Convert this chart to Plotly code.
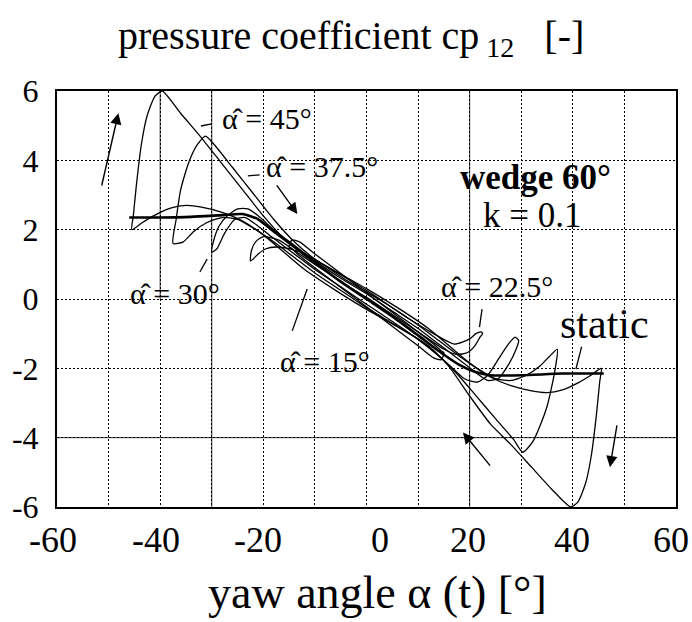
import plotly.graph_objects as go

# ---------------- data ----------------
static_alpha = [-46, -40, -34, -28, -24, -21, -18, -14, -10, -5, 0, 5, 10, 14, 18, 21, 24, 30, 38, 46]
static_cp = [2.35, 2.35, 2.37, 2.42, 2.45, 2.3, 1.95, 1.5, 1.05, 0.5, 0.0, -0.5, -1.05, -1.5, -1.9, -2.1, -2.2, -2.2, -2.15, -2.15]

a45_alpha = [-45.5, -45.2, -44.6, -43.6, -42.5, -41, -39.6, -36, -32, -28, -24, -20, -16, -12, -6, 0, 6, 12, 16, 20, 24, 28, 32, 35, 38, 41, 43.5, 45.5,
             45.2, 44.6, 43.6, 42.5, 41, 39.6, 36, 32, 28, 24, 20, 16, 12, 6, 0, -6, -12, -16, -20, -24, -28, -32, -35, -38, -41, -43.5, -45.5]
a45_cp = [2.0, 2.4, 3.3, 4.5, 5.3, 5.85, 6.0, 5.35, 4.65, 3.9, 3.15, 2.4, 1.75, 1.3, 0.8, 0.3, -0.25, -0.85, -1.35, -1.85, -2.25, -2.5, -2.65, -2.7, -2.62, -2.42, -2.2, -2.0,
          -2.4, -3.3, -4.5, -5.3, -5.85, -6.0, -5.5, -4.85, -4.2, -3.6, -2.8, -1.95, -1.35, -0.8, -0.3, 0.25, 0.85, 1.35, 1.85, 2.25, 2.5, 2.65, 2.7, 2.62, 2.42, 2.2, 2.0]

a375_alpha = [-37.5, -36.9, -36.1, -35.2, -34.2, -32.8, -31.2, -29.5, -26, -22, -18, -14, -10, -5, 0, 5, 10, 14, 18, 22, 25, 28, 31, 33.5, 35.5, 37,
              36.6, 35.8, 35, 33.8, 32.3, 30.3, 28.5, 25, 21, 17.8, 14.5, 10, 5, 0, -5, -10, -14, -18, -22, -25, -28, -31, -33.5, -35.5, -37.5]
a375_cp = [1.6, 2.3, 3.1, 3.6, 4.04, 4.45, 4.7, 4.45, 3.8, 3.05, 2.3, 1.65, 1.15, 0.7, 0.25, -0.25, -0.75, -1.2, -1.65, -2.05, -2.3, -2.35, -2.2, -1.95, -1.65, -1.45,
           -2.0, -2.6, -3.1, -3.6, -4.1, -4.42, -4.05, -3.45, -2.75, -2.2, -1.7, -1.15, -0.7, -0.25, 0.25, 0.75, 1.2, 1.65, 2.05, 2.3, 2.35, 2.2, 1.95, 1.65, 1.6]

a30_alpha = [-30, -29.6, -28.6, -27, -25, -23, -21, -18, -14, -10, -5, 0, 5, 10, 14, 18, 21, 23.5, 25.5, 27.5, 29, 29.5,
             28.8, 27.5, 25.5, 23.5, 21.5, 19, 16, 12, 8, 4, 0, -5, -10, -14, -18, -21, -23.5, -25.5, -27.5, -29, -30]
a30_cp = [1.35, 1.7, 2.1, 2.4, 2.6, 2.6, 2.4, 2.0, 1.55, 1.1, 0.6, 0.15, -0.35, -0.85, -1.3, -1.75, -2.1, -2.35, -2.3, -1.9, -1.45, -1.2,
          -1.1, -1.3, -1.75, -2.2, -2.4, -2.3, -1.9, -1.4, -0.95, -0.55, -0.15, 0.35, 0.85, 1.3, 1.75, 2.1, 2.35, 2.3, 1.9, 1.45, 1.35]

a225_alpha = [-22.5, -22.3, -21.5, -20, -17, -13, -8, -4, 0, 4, 8, 12, 15, 17.5, 19.5, 21, 22, 22.5,
              22.2, 21.2, 20, 17, 13, 8, 4, 0, -4, -8, -12, -15, -17.5, -19.5, -21, -22, -22.5]
a225_cp = [1.1, 1.4, 1.65, 1.8, 1.7, 1.3, 0.8, 0.4, 0.05, -0.35, -0.75, -1.15, -1.45, -1.6, -1.55, -1.35, -1.1, -1.0,
           -0.95, -1.0, -1.15, -1.3, -1.0, -0.55, -0.15, 0.2, 0.55, 0.95, 1.3, 1.45, 1.5, 1.45, 1.3, 1.15, 1.1]

a15_alpha = [-15, -14.5, -13, -10, -6, -2, 2, 6, 10, 13, 14.5, 15, 14.5, 13, 10, 6, 2, -2, -6, -10, -13, -14.5, -15]
a15_cp = [1.5, 1.7, 1.65, 1.3, 0.85, 0.4, -0.05, -0.5, -0.95, -1.3, -1.5, -1.55, -1.75, -1.7, -1.35, -0.9, -0.45, 0.0, 0.45, 0.9, 1.25, 1.45, 1.5]

x_ticks = [-60, -40, -20, 0, 20, 40, 60]
x_tick_labels = ["-60", "-40", "-20", "0", "20", "40", "60"]
x_tick_shift = [-4, -4, -5, 13, -2, -1, -5]
y_ticks = [-6, -4, -2, 0, 2, 4, 6]

FONT = "Liberation Serif"

fig = go.Figure()
for xs, ys in [(a45_alpha, a45_cp), (a375_alpha, a375_cp), (a30_alpha, a30_cp),
               (a225_alpha, a225_cp), (a15_alpha, a15_cp)]:
    fig.add_trace(go.Scatter(x=xs, y=ys, mode="lines", line=dict(color="black", width=1.3, shape="spline", smoothing=0.6),
                             showlegend=False, hoverinfo="skip"))
fig.add_trace(go.Scatter(x=static_alpha, y=static_cp, mode="lines", line=dict(color="black", width=2.6, shape="spline", smoothing=0.6),
                         showlegend=False, hoverinfo="skip"))

# solid grid lines visible in the scan
for xv, y0, y1 in [(-40, 0, 6), (-30, -6, 6), (20, -6, 6)]:
    fig.add_shape(type="line", x0=xv, x1=xv, y0=y0, y1=y1, xref="x", yref="y", line=dict(color="#333", width=1), layer="below")
fig.add_shape(type="line", x0=-60, x1=60, y0=-4, y1=-4, xref="x", yref="y", line=dict(color="#333", width=1), layer="below")

# alpha-hat labels (left-anchored), hat as combining circumflex
HAT = "\u03b1\u0302"
labels = [
    (" = 45°", -28.4, 5.2),
    (" = 37.5°", -19.8, 3.82),
    (" = 30°", -46.2, 0.17),
    (" = 15°", -17.2, -1.8),
    (" = 22.5°", 14.0, 0.37),
]
for t, x, y in labels:
    fig.add_annotation(x=x, y=y, text=HAT + t, showarrow=False, xanchor="left", yanchor="middle",
                       font=dict(family=FONT, size=30, color="black"))
fig.add_annotation(x=46.2, y=-0.72, text="static", showarrow=False, font=dict(family=FONT, size=42, color="black"))
fig.add_annotation(x=32.7, y=3.5, text="<b>wedge 60°</b>", showarrow=False, font=dict(family=FONT, size=35, color="black"))
fig.add_annotation(x=32.1, y=2.42, text="k = 0.1", showarrow=False, font=dict(family=FONT, size=35, color="black"))

# pointer lines
for x0, y0, x1, y1 in [(-32.1, 4.99, -30.0, 5.05), (-23.0, 3.55, -20.7, 3.58), (-32.3, 0.78, -30.9, 1.15),
                       (-14.4, -0.92, -11.5, 0.29), (21.9, -0.81, 22.4, -0.29), (40.6, -2.02, 41.7, -1.38)]:
    fig.add_shape(type="line", x0=x0, y0=y0, x1=x1, y1=y1, xref="x", yref="y", line=dict(color="black", width=1.3))

# direction arrows
for hx, hy, tx, ty in [(-48.1, 5.36, -51.4, 3.23), (-13.4, 2.45, -17.6, 3.32), (18.7, -3.85, 24.2, -4.85), (47.2, -4.85, 48.6, -3.6)]:
    fig.add_annotation(x=hx, y=hy, ax=tx, ay=ty, xref="x", yref="y", axref="x", ayref="y", text="", showarrow=True,
                       arrowhead=2, arrowsize=1.6, arrowwidth=1.4, arrowcolor="black")

# x tick labels
for v, lab, sh in zip(x_ticks, x_tick_labels, x_tick_shift):
    fig.add_annotation(x=v, y=-0.079, xref="x", yref="paper", text=lab, showarrow=False, xanchor="center", yanchor="middle",
                       xshift=sh, font=dict(family=FONT, size=36, color="black"))

# titles
fig.add_annotation(xref="paper", yref="paper", x=0.475, y=1.127, text="pressure coefficient cp<sub> 12</sub>   [-]",
                   showarrow=False, xanchor="center", yanchor="middle", font=dict(family=FONT, size=40, color="black"))
fig.add_annotation(xref="paper", yref="paper", x=0.518, y=-0.205, text="yaw angle \u03b1 (t) [°]",
                   showarrow=False, xanchor="center", yanchor="middle", font=dict(family=FONT, size=46, color="black"))

grid = dict(showgrid=True, gridcolor="black", gridwidth=1, griddash="2px,2px")
fig.update_xaxes(range=[-60, 60], tickvals=x_ticks, showticklabels=False, **grid,
                 minor=dict(dtick=10, showgrid=True, gridcolor="black", gridwidth=1, griddash="2px,2px"),
                 showline=True, mirror=True, linecolor="black", linewidth=2, zeroline=False, ticks="")
fig.update_yaxes(range=[-6, 6], tickvals=y_ticks, ticktext=[str(v) for v in y_ticks], **grid,
                 showline=True, mirror=True, linecolor="black", linewidth=2, zeroline=False,
                 ticks="outside", ticklen=10, tickcolor="rgba(0,0,0,0)",
                 tickfont=dict(family=FONT, size=32, color="black"))
fig.update_layout(width=692, height=622, autosize=False, margin=dict(l=53, r=16, t=91, b=115),
                  paper_bgcolor="white", plot_bgcolor="white", showlegend=False)
fig.write_html("out.html")
